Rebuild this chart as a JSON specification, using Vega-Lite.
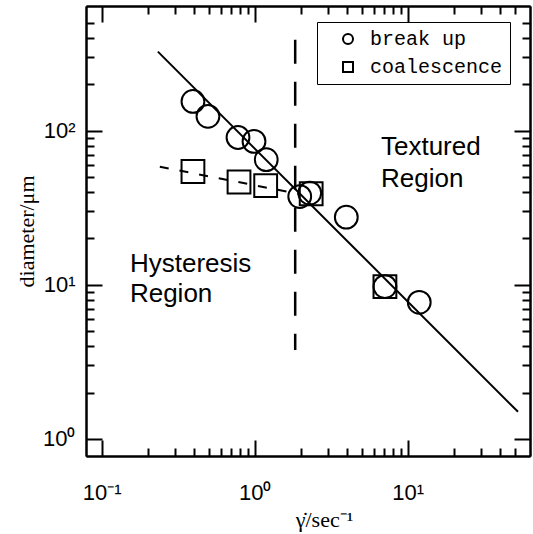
{
  "$schema": "https://vega.github.io/schema/vega-lite/v6.json",
  "width": 444,
  "height": 450,
  "autosize": {"type": "none"},
  "padding": {"left": 86, "top": 6, "right": 3, "bottom": 78},
  "config": {"view": {"stroke": null}, "font": "Liberation Sans"},
  "datasets": {
    "obs": [
      {"gamma": 0.395, "d": 155, "series": "break up"},
      {"gamma": 0.495, "d": 124, "series": "break up"},
      {"gamma": 0.778, "d": 90.4, "series": "break up"},
      {"gamma": 0.99, "d": 85.3, "series": "break up"},
      {"gamma": 1.19, "d": 64.9, "series": "break up"},
      {"gamma": 1.97, "d": 37.4, "series": "break up"},
      {"gamma": 2.29, "d": 39.4, "series": "break up"},
      {"gamma": 3.97, "d": 27.5, "series": "break up"},
      {"gamma": 7.1, "d": 9.75, "series": "break up"},
      {"gamma": 11.9, "d": 7.7, "series": "break up"},
      {"gamma": 0.395, "d": 54.4, "series": "coalescence"},
      {"gamma": 0.79, "d": 46.5, "series": "coalescence"},
      {"gamma": 1.18, "d": 44, "series": "coalescence"},
      {"gamma": 2.34, "d": 39, "series": "coalescence"},
      {"gamma": 7.1, "d": 9.75, "series": "coalescence"}
    ],
    "fitline": [{"gamma": 0.233, "d": 326}, {"gamma": 52.6, "d": 1.5}],
    "coalline": [{"gamma": 0.24, "d": 58.4}, {"gamma": 1.92, "d": 39}],
    "boundary": [{"gamma": 1.84, "d": 390, "d2": 3.78}],
    "regions": [
      {"gamma": 6.69, "d": 69.8, "label": "Textured"},
      {"gamma": 6.69, "d": 43.3, "label": "Region"},
      {"gamma": 0.153, "d": 12.1, "label": "Hysteresis"},
      {"gamma": 0.153, "d": 7.76, "label": "Region"}
    ]
  },
  "layer": [
    {
      "data": {"name": "fitline"},
      "mark": {"type": "line", "color": "black", "strokeWidth": 2},
      "encoding": {
        "x": {"field": "gamma", "type": "quantitative",
          "scale": {"type": "log", "domain": [0.079, 63], "nice": false},
          "axis": {
            "orient": "bottom",
            "values": [0.1, 1, 10],
            "labelExpr": "datum.value == 0.1 ? '10⁻¹' : datum.value == 1 ? '10⁰' : '10¹'",
            "tickSize": -16,
            "tickWidth": 2, "tickColor": "black",
            "domainColor": "black", "domainWidth": 2,
            "labelFontSize": 22, "labelFont": "Liberation Sans", "labelColor": "black",
            "labelPadding": 42, "labelOverlap": false,
            "grid": false,
            "title": "γ̇/sec⁻¹", "titleFont": "Liberation Serif", "titleFontSize": 22,
            "titleFontWeight": "normal", "titleColor": "black",
            "titleX": 238, "titleY": 70, "titleBaseline": "alphabetic"
          }
        },
        "y": {"field": "d", "type": "quantitative",
          "scale": {"type": "log", "domain": [0.775, 645], "nice": false},
          "axis": {
            "orient": "left",
            "values": [1, 10, 100],
            "labelExpr": "datum.value == 1 ? '10⁰' : datum.value == 10 ? '10¹' : '10²'",
            "tickSize": -16,
            "tickWidth": 2, "tickColor": "black",
            "domainColor": "black", "domainWidth": 2,
            "labelFontSize": 22, "labelFont": "Liberation Sans", "labelColor": "black",
            "labelPadding": 27, "labelOverlap": false,
            "grid": false,
            "title": "diameter/μm", "titleFont": "Liberation Serif", "titleFontSize": 22,
            "titleFontWeight": "normal", "titleColor": "black",
            "titleX": -60, "titleY": 225, "titleAngle": -90, "titleBaseline": "middle", "titleAlign": "center"
          }
        }
      }
    },
    {
      "data": {"name": "coalline"},
      "mark": {"type": "line", "color": "black", "strokeWidth": 2, "strokeDash": [9, 11]},
      "encoding": {
        "x": {"field": "gamma", "type": "quantitative",
          "scale": {"type": "log", "domain": [0.079, 63], "nice": false},
          "axis": {
            "orient": "bottom",
            "values": [0.2,0.3,0.4,0.5,0.6,0.7,0.8,0.9,2,3,4,5,6,7,8,9,20,30,40,50],
            "labels": false, "tickSize": -8, "tickWidth": 2, "tickColor": "black",
            "domainColor": "black", "domainWidth": 2, "grid": false, "title": null
          }
        },
        "y": {"field": "d", "type": "quantitative",
          "scale": {"type": "log", "domain": [0.775, 645], "nice": false},
          "axis": {
            "orient": "left",
            "values": [2,3,4,5,6,7,8,9,20,30,40,50,60,70,80,90,200,300,400,500],
            "labels": false, "tickSize": -8, "tickWidth": 2, "tickColor": "black",
            "domainColor": "black", "domainWidth": 2, "grid": false, "title": null
          }
        }
      }
    },
    {
      "data": {"name": "boundary"},
      "mark": {"type": "rule", "color": "black", "strokeWidth": 2.5, "strokeDash": [24, 18]},
      "encoding": {
        "x": {"field": "gamma", "type": "quantitative", "scale": {"type": "log", "domain": [0.079, 63], "nice": false},
          "axis": {
            "orient": "top", "values": [0.1, 1, 10],
            "labels": false, "tickSize": -16, "tickWidth": 2, "tickColor": "black",
            "domainColor": "black", "domainWidth": 2, "grid": false, "title": null
          }
        },
        "y": {"field": "d", "type": "quantitative", "scale": {"type": "log", "domain": [0.775, 645], "nice": false},
          "axis": {
            "orient": "right", "values": [1, 10, 100],
            "labels": false, "tickSize": -16, "tickWidth": 2, "tickColor": "black",
            "domainColor": "black", "domainWidth": 2, "grid": false, "title": null
          }
        },
        "y2": {"field": "d2"}
      }
    },
    {
      "data": {"name": "obs"},
      "mark": {"type": "point", "filled": false, "strokeWidth": 2, "color": "black", "size": 520, "opacity": 1},
      "encoding": {
        "x": {"field": "gamma", "type": "quantitative", "scale": {"type": "log", "domain": [0.079, 63], "nice": false},
          "axis": {
            "orient": "top",
            "values": [0.2,0.3,0.4,0.5,0.6,0.7,0.8,0.9,2,3,4,5,6,7,8,9,20,30,40,50],
            "labels": false, "tickSize": -8, "tickWidth": 2, "tickColor": "black",
            "domainColor": "black", "domainWidth": 2, "grid": false, "title": null
          }
        },
        "y": {"field": "d", "type": "quantitative", "scale": {"type": "log", "domain": [0.775, 645], "nice": false},
          "axis": {
            "orient": "right",
            "values": [2,3,4,5,6,7,8,9,20,30,40,50,60,70,80,90,200,300,400,500],
            "labels": false, "tickSize": -8, "tickWidth": 2, "tickColor": "black",
            "domainColor": "black", "domainWidth": 2, "grid": false, "title": null
          }
        },
        "shape": {"field": "series", "type": "nominal",
          "scale": {"domain": ["break up", "coalescence"], "range": ["circle", "square"]},
          "legend": {
            "orient": "none", "legendX": 231, "legendY": 16, "title": null,
            "strokeColor": "black", "padding": 7, "symbolOffset": 14,
            "labelOffset": 12, "rowPadding": 8, "symbolSize": 100,
            "symbolStrokeWidth": 2, "symbolStrokeColor": "black",
            "labelFont": "Liberation Mono", "labelFontSize": 20, "labelColor": "black"
          }
        }
      }
    },
    {
      "data": {"name": "regions"},
      "mark": {"type": "text", "align": "left", "baseline": "alphabetic", "fontSize": 26, "font": "Liberation Sans", "color": "black"},
      "encoding": {
        "x": {"field": "gamma", "type": "quantitative", "scale": {"type": "log", "domain": [0.079, 63], "nice": false}, "axis": null},
        "y": {"field": "d", "type": "quantitative", "scale": {"type": "log", "domain": [0.775, 645], "nice": false}, "axis": null},
        "text": {"field": "label"}
      }
    }
  ],
  "resolve": {"axis": {"x": "independent", "y": "independent"}}
}
